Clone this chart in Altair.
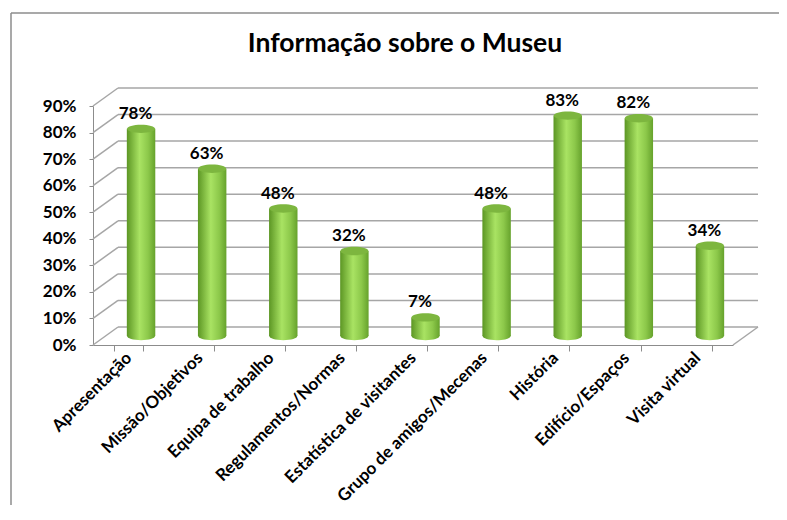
import altair as alt
import pandas as pd

categories = ["Apresentação", "Missão/Objetivos", "Equipa de trabalho",
              "Regulamentos/Normas", "Estatística de visitantes",
              "Grupo de amigos/Mecenas", "História", "Edifício/Espaços",
              "Visita virtual"]
values = [0.78, 0.63, 0.48, 0.32, 0.07, 0.48, 0.83, 0.82, 0.34]
tick_values = [0.0, 0.1, 0.2, 0.3, 0.4, 0.5, 0.6, 0.7, 0.8, 0.9]
title_text = "Informação sobre o Museu"

FONT = "Lato"
GRID = "#a6a6a6"
AX = "#8c8c8c"

bars_df = pd.DataFrame({"cat": categories, "val": values,
                        "lab": [f"{round(v*100)}%" for v in values]})
grid_df = pd.DataFrame({"val": tick_values})
floor_df = pd.DataFrame({"val": [0.0]})
title_df = pd.DataFrame({"title": [title_text]})

yscale = alt.Scale(domain=[0, 0.9], nice=False)
xscale = alt.Scale(domain=categories, paddingInner=0.6, paddingOuter=0.3)

yaxis = alt.Axis(values=tick_values, format=".0%", title=None,
                 grid=False, domainColor=AX, tickColor=AX, tickSize=4,
                 labelOverlap=False,
                 labelFont=FONT, labelFontSize=17, labelFontWeight="bold",
                 labelColor="#000000", labelPadding=13)
yenc = alt.Y("val:Q", scale=yscale, axis=yaxis)

grad = alt.Gradient(gradient="linear", x1=0, x2=1, y1=0, y2=0,
                    stops=[alt.GradientStop(color="#5c9624", offset=0),
                           alt.GradientStop(color="#a9e363", offset=0.45),
                           alt.GradientStop(color="#8cc84a", offset=0.75),
                           alt.GradientStop(color="#66a22c", offset=1)])

DX = 12.5
DY = -9
ELL = "M -1 0 A 1 0.3 0 1 0 1 0 A 1 0.3 0 1 0 -1 0 Z"

back_grid = alt.Chart(grid_df).mark_rule(color=GRID, strokeWidth=1.5, yOffset=-18).encode(
    x=alt.value(25), x2=alt.value(665), y=yenc)

diag = alt.Chart(grid_df).mark_rule(color=GRID, strokeWidth=1.5, y2Offset=-18).encode(
    x=alt.value(0), x2=alt.value(25), y=yenc, y2="val:Q")

floor = alt.Chart(floor_df).mark_rule(color=GRID, strokeWidth=1.5, y2Offset=-18).encode(
    x=alt.value(640), x2=alt.value(665), y=yenc, y2="val:Q")

xenc = alt.X("cat:N", scale=xscale, sort=categories,
             axis=alt.Axis(title=None, labelAngle=-45, labelAlign="right",
                           labelBaseline="middle", tickBand="extent",
                           domainColor=AX, tickColor=AX, tickSize=6,
                           labelOverlap=False,
                           labelFont=FONT, labelFontSize=17, labelFontWeight="bold",
                           labelColor="#000000", labelPadding=4, labelLimit=300))

bottoms = alt.Chart(bars_df).mark_point(shape=ELL, filled=True, fill=grad, opacity=1,
                                        size=784, xOffset=DX, yOffset=DY, strokeWidth=0).encode(
    x=xenc, y=alt.datum(0, scale=yscale, axis=yaxis))

bars = alt.Chart(bars_df).mark_bar(fill=grad, xOffset=DX, yOffset=DY, y2Offset=DY).encode(
    x=xenc, y=yenc, y2=alt.datum(0))

tops = alt.Chart(bars_df).mark_point(shape=ELL, filled=True, fill="#7db63f", opacity=1,
                                     size=784, xOffset=DX, yOffset=DY, strokeWidth=0).encode(
    x=xenc, y=yenc)

labels = alt.Chart(bars_df).mark_text(font=FONT, fontSize=17, fontWeight="bold",
                                      color="#000000", baseline="alphabetic",
                                      xOffset=7, yOffset=DY - 10).encode(
    x=xenc, y=yenc, text="lab:N")

title = alt.Chart(title_df).mark_text(font=FONT, fontSize=26.5, fontWeight="bold",
                                      color="#000000", baseline="alphabetic",
                                      align="center").encode(
    x=alt.value(312), y=alt.value(-54), text="title:N")

frame_left = alt.Chart(floor_df).mark_rule(color="#8c8c8c", strokeWidth=1.5).encode(
    x=alt.value(-82), y=alt.value(-93), y2=alt.value(520))
frame_top = alt.Chart(floor_df).mark_rule(color="#8c8c8c", strokeWidth=1.5).encode(
    x=alt.value(-82), x2=alt.value(800), y=alt.value(-93))

chart = alt.layer(frame_left, frame_top, back_grid, diag, floor,
                  bottoms, bars, tops, labels, title).properties(
    width=640, height=239,
    background="white",
    autosize=alt.AutoSizeParams(type="none"),
    padding={"left": 85, "top": 98, "right": 46, "bottom": 160},
).configure_view(strokeWidth=0, stroke="transparent")

chart.save("out.html", embed_options={"renderer": "svg", "actions": False})
